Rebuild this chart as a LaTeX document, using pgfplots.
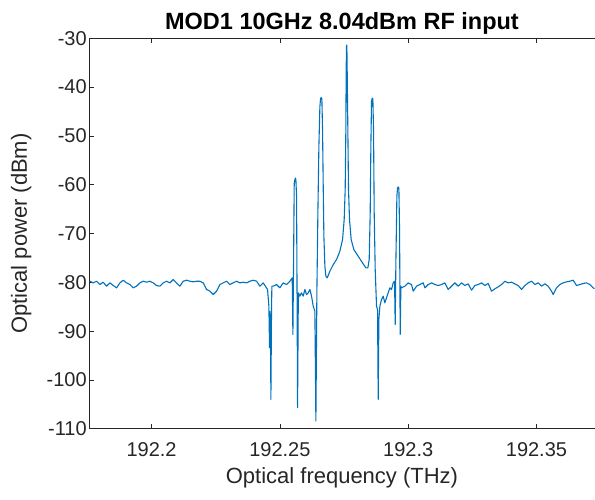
\documentclass[border=0pt]{standalone}
\usepackage{pgfplots}
\pgfplotsset{compat=1.18}
\usepackage{fontspec}
\setmainfont{Liberation Sans}
\definecolor{mblue}{rgb}{0,0.447,0.741}
\definecolor{axgray}{gray}{0.15}

\begin{document}
\begin{tikzpicture}
\begin{axis}[
  scale only axis,
  width=505.7pt, height=390.7pt,
  xmin=192.1757, xmax=192.3727,
  ymin=-110, ymax=-30,
  axis x line=box, axis y line=left,
  axis line style={axgray, line width=0.6pt, -},
  every outer y axis line/.append style={-},
  xtick={192.2,192.25,192.3,192.35},
  xticklabels={192.2,192.25,192.3,192.35},
  ytick={-110,-100,-90,-80,-70,-60,-50,-40,-30},
  yticklabels={-110,-100,-90,-80,-70,-60,-50,-40,-30},
  tick style={axgray, line width=0.6pt},
  major tick length=5pt,
  tick align=inside,
  tick label style={font=\fontsize{20}{24}\selectfont, text=axgray},
  xticklabel style={yshift=-10pt},
  yticklabel style={xshift=1pt},
  title={MOD1 10GHz 8.04dBm RF input},
  title style={font=\bfseries\fontsize{23.5}{27}\selectfont, yshift=-6pt},
  xlabel={Optical frequency (THz)},
  ylabel={Optical power (dBm)},
  every axis x label/.style={at={(axis description cs:0.5,-0.1254)}, anchor=center,
    font=\fontsize{22}{26}\selectfont, text=axgray},
  every axis y label/.style={at={(axis description cs:-0.1345,0.5)}, rotate=90, anchor=center,
    font=\fontsize{22}{26}\selectfont, text=axgray},
]
\addplot[mblue, line width=1.1pt, line join=round] coordinates {
(192.17596,-79.77) (192.17725,-80.11) (192.17855,-79.77) (192.17985,-80.45)
(192.18115,-79.97) (192.18245,-80.79) (192.18375,-80.11) (192.18505,-80.65)
(192.18635,-81.13) (192.18765,-80.11) (192.18895,-79.56) (192.19025,-80.11)
(192.19154,-80.45) (192.19284,-81.13) (192.19414,-80.79) (192.19544,-80.11)
(192.19674,-79.77) (192.19804,-79.97) (192.19934,-79.77) (192.20064,-80.11)
(192.20194,-80.65) (192.20324,-80.79) (192.20453,-80.11) (192.20583,-79.77)
(192.20713,-80.11) (192.20843,-79.42) (192.20973,-80.11) (192.21103,-80.79)
(192.21233,-79.77) (192.21363,-79.56) (192.21493,-79.77) (192.21623,-79.90)
(192.21752,-79.77) (192.21882,-79.77) (192.22012,-80.11) (192.22142,-81.47)
(192.22272,-81.81) (192.22402,-82.49) (192.22532,-81.81) (192.22662,-80.45)
(192.22792,-80.11) (192.22922,-79.77) (192.23051,-80.45) (192.23181,-80.11)
(192.23311,-79.77) (192.23441,-80.11) (192.23571,-79.97) (192.23701,-80.11)
(192.23831,-79.77) (192.23961,-79.56) (192.24091,-79.77) (192.24221,-80.79)
(192.24350,-80.11) (192.24519,-81.47) (192.24571,-84.88) (192.24597,-93.40)
(192.24610,-86.00) (192.24636,-90.00) (192.24649,-103.97) (192.24675,-85.00)
(192.24688,-80.79) (192.24740,-80.79) (192.24870,-80.45) (192.25000,-81.13)
(192.25130,-80.11) (192.25260,-80.45) (192.25390,-79.77) (192.25481,-79.08)
(192.25507,-90.67) (192.25533,-76.02) (192.25559,-59.66) (192.25585,-58.97)
(192.25604,-58.63) (192.25624,-58.97) (192.25650,-62.38) (192.25676,-89.65)
(192.25689,-105.67) (192.25714,-86.24) (192.25727,-82.15) (192.25779,-82.83)
(192.25844,-82.15) (192.25909,-82.83) (192.25974,-81.47) (192.26039,-82.49)
(192.26104,-82.15) (192.26169,-81.47) (192.26234,-82.83) (192.26299,-84.88)
(192.26364,-85.90) (192.26403,-108.40) (192.26442,-82.00) (192.26481,-65.79)
(192.26520,-52.16) (192.26559,-43.98) (192.26585,-42.41) (192.26611,-42.14)
(192.26637,-42.41) (192.26663,-48.75) (192.26689,-60.34) (192.26715,-70.56)
(192.26754,-76.70) (192.26793,-78.74) (192.26845,-79.08) (192.26949,-77.72)
(192.27079,-76.36) (192.27208,-75.33) (192.27338,-73.63) (192.27442,-71.25)
(192.27506,-67.15) (192.27545,-61.02) (192.27571,-48.75) (192.27584,-36.48)
(192.27597,-31.71) (192.27610,-31.37) (192.27623,-36.48) (192.27649,-48.75)
(192.27675,-61.02) (192.27714,-67.15) (192.27779,-71.25) (192.27883,-73.29)
(192.28052,-74.65) (192.28222,-76.02) (192.28352,-77.04) (192.28429,-77.04)
(192.28481,-75.33) (192.28520,-65.79) (192.28546,-52.16) (192.28572,-42.96)
(192.28598,-42.27) (192.28624,-42.41) (192.28650,-48.75) (192.28676,-65.79)
(192.28715,-77.38) (192.28767,-84.88) (192.28806,-85.56) (192.28832,-103.97)
(192.28858,-87.60) (192.28897,-84.88) (192.28962,-83.52) (192.29027,-82.83)
(192.29092,-84.20) (192.29157,-83.17) (192.29222,-82.15) (192.29287,-81.13)
(192.29352,-81.47) (192.29417,-80.11) (192.29469,-79.77) (192.29495,-88.63)
(192.29521,-76.02) (192.29560,-62.38) (192.29586,-60.68) (192.29612,-60.47)
(192.29638,-60.68) (192.29664,-69.20) (192.29690,-90.67) (192.29716,-80.79)
(192.29741,-81.13) (192.29871,-80.79) (192.30001,-80.11) (192.30131,-80.45)
(192.30196,-81.81) (192.30326,-80.79) (192.30456,-80.45) (192.30586,-80.11)
(192.30651,-81.13) (192.30781,-80.45) (192.30911,-80.11) (192.31040,-80.45)
(192.31170,-80.65) (192.31300,-80.45) (192.31430,-80.11) (192.31560,-81.47)
(192.31690,-80.79) (192.31820,-80.11) (192.31950,-80.79) (192.32080,-80.11)
(192.32210,-80.65) (192.32339,-80.31) (192.32469,-81.61) (192.32599,-80.65)
(192.32729,-80.45) (192.32859,-80.11) (192.32989,-80.65) (192.33119,-80.24)
(192.33249,-81.81) (192.33379,-81.33) (192.33509,-80.92) (192.33639,-80.45)
(192.33768,-79.77) (192.33898,-80.11) (192.34028,-79.97) (192.34158,-80.31)
(192.34288,-80.65) (192.34418,-81.47) (192.34548,-80.65) (192.34678,-80.11)
(192.34808,-79.77) (192.34938,-80.45) (192.35067,-80.11) (192.35197,-80.79)
(192.35327,-80.31) (192.35457,-80.79) (192.35587,-81.81) (192.35652,-82.49)
(192.35782,-81.13) (192.35912,-80.45) (192.36042,-80.11) (192.36172,-79.90)
(192.36302,-79.77) (192.36431,-79.56) (192.36561,-80.65) (192.36691,-80.45)
(192.36821,-80.24) (192.36951,-80.11) (192.37081,-80.45) (192.37211,-81.13)
(192.37341,-81.47)
};
\coordinate (bl) at (axis description cs:0,0);
\end{axis}
\path (bl) ++(-89.3pt,-71pt) rectangle ++(595pt,500pt);
\end{tikzpicture}
\end{document}
